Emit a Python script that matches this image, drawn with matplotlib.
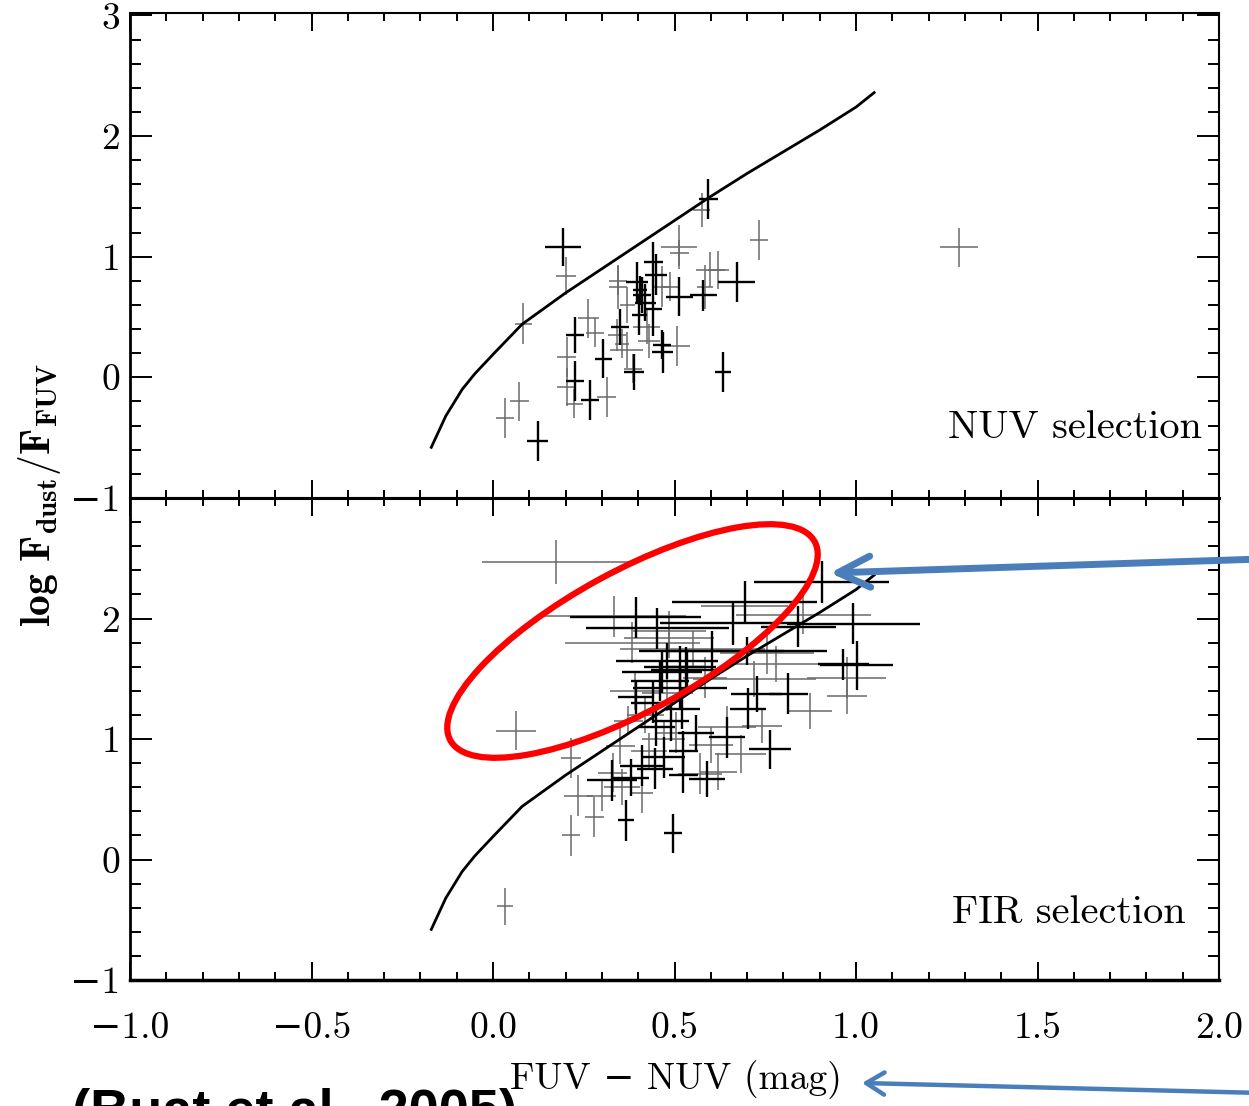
import numpy as np
import matplotlib.pyplot as plt
from matplotlib.patches import Ellipse, FancyArrowPatch
from matplotlib.transforms import IdentityTransform
from matplotlib.ticker import MultipleLocator

plt.rcParams['font.family'] = ['cmr10', 'DejaVu Serif']
plt.rcParams['mathtext.fontset'] = 'cm'
plt.rcParams['axes.unicode_minus'] = True

# model curve (same in both panels)
curve_x = [-0.17, -0.13, -0.085, -0.05, 0.0, 0.08, 0.2, 0.3, 0.4, 0.5, 0.6, 0.7, 0.8, 0.9, 1.0, 1.05]
curve_y = [-0.58, -0.32, -0.10, 0.03, 0.19, 0.44, 0.70, 0.90, 1.10, 1.30, 1.50, 1.69, 1.87, 2.05, 2.24, 2.36]

# NUV selection (upper panel)
nuv_x = [0.192, 0.201, 0.084, 0.033, 0.073, 0.123, 0.593, 0.575, 0.732, 0.513, 0.513, 0.442, 0.671,
         0.621, 0.598, 0.584, 0.513, 0.579, 0.488, 0.397, 0.410, 0.405, 0.442, 0.465, 0.403, 0.345,
         0.345, 0.350, 0.342, 0.355, 0.388, 0.386, 0.467, 0.465, 0.506, 0.634, 0.304, 0.263, 0.226,
         0.226, 0.203, 0.203, 0.267, 0.313, 0.224, 0.281, 0.368, 0.423, 1.284,
         0.420, 0.430, 0.370, 0.450]
nuv_y = [1.08, 0.84, 0.445, -0.34, -0.20, -0.53, 1.48, 1.39, 1.14, 1.08, 1.03, 0.96, 0.79,
         0.89, 0.89, 0.75, 0.67, 0.68, 0.75, 0.79, 0.68, 0.72, 0.57, 0.75, 0.515, 0.75,
         0.80, 0.415, 0.35, 0.28, 0.044, 0.072, 0.21, 0.27, 0.26, 0.044, 0.155, 0.49, 0.35,
         -0.03, 0.17, -0.08, -0.185, -0.163, -0.22, 0.37, 0.225, 0.42, 1.08,
         0.62, 0.30, 0.60, 0.85]
nuv_xerr = [0.050, 0.027, 0.023, 0.025, 0.026, 0.028, 0.026, 0.023, 0.025, 0.050, 0.026, 0.025, 0.050,
            0.028, 0.040, 0.023, 0.037, 0.037, 0.025, 0.030, 0.025, 0.020, 0.023, 0.025, 0.021, 0.025,
            0.025, 0.025, 0.025, 0.020, 0.028, 0.025, 0.028, 0.025, 0.037, 0.022, 0.023, 0.028, 0.024,
            0.024, 0.027, 0.026, 0.024, 0.026, 0.024, 0.025, 0.046, 0.037, 0.052,
            0.030, 0.030, 0.020, 0.030]
nuv_yerr = [0.16, 0.155, 0.17, 0.165, 0.16, 0.165, 0.165, 0.14, 0.165, 0.18, 0.11, 0.16, 0.165,
            0.155, 0.145, 0.18, 0.16, 0.13, 0.12, 0.17, 0.15, 0.12, 0.23, 0.17, 0.16, 0.18,
            0.12, 0.15, 0.13, 0.12, 0.15, 0.12, 0.17, 0.12, 0.165, 0.165, 0.16, 0.16, 0.15,
            0.165, 0.165, 0.16, 0.165, 0.165, 0.12, 0.12, 0.15, 0.14, 0.162,
            0.15, 0.14, 0.15, 0.17]
nuv_thick = [1, 0, 0, 0, 0, 1, 1, 0, 0, 0, 0, 1, 1,
             0, 0, 0, 1, 1, 0, 1, 1, 1, 1, 0, 1, 0,
             0, 1, 0, 0, 1, 0, 1, 1, 0, 1, 1, 0, 1,
             1, 0, 0, 1, 0, 0, 0, 0, 0, 0,
             1, 0, 0, 1]

# FIR selection (lower panel)
fir_x = [0.173, 0.063, 0.905, 0.993, 0.841, 0.855, 0.693, 0.694, 0.393, 0.332, 0.453, 0.384, 0.660,
         0.485, 0.602, 0.754, 1.002, 0.965, 0.974, 0.814, 0.873, 0.974, 0.726, 0.703, 0.644, 0.740,
         0.763, 0.682, 0.644, 0.621, 0.589, 0.570, 0.495, 0.366, 0.215, 0.279, 0.235, 0.215, 0.033,
         0.328, 0.355, 0.410, 0.446, 0.300, 0.350, 0.524, 0.524, 0.534, 0.584, 0.486, 0.515, 0.460,
         0.391, 0.393, 0.465, 0.532, 0.515, 0.373, 0.450, 0.470, 0.490, 0.505, 0.430, 0.380, 0.330,
         0.410, 0.700, 0.550, 0.480, 0.720, 0.780, 0.440, 0.520, 0.480, 0.560, 0.420, 0.600, 0.470]
fir_y = [2.47, 1.07, 2.30, 1.955, 1.93, 2.03, 2.14, 2.10, 2.01, 2.02, 1.92, 1.80, 1.96,
         1.84, 1.73, 1.71, 1.61, 1.62, 1.51, 1.375, 1.23, 1.355, 1.375, 1.25, 1.10, 1.105,
         0.913, 0.877, 1.015, 0.73, 0.67, 0.71, 0.218, 0.324, 0.20, 0.35, 0.53, 0.84, -0.39,
         0.656, 0.60, 0.78, 0.755, 0.53, 0.946, 0.90, 0.70, 1.57, 1.51, 1.90, 1.60, 1.485,
         1.40, 1.346, 1.555, 1.595, 1.42, 1.15, 1.10, 1.00, 1.15, 1.05, 0.90, 0.68, 0.72,
         0.55, 1.73, 1.75, 1.65, 1.50, 1.62, 1.30, 1.25, 1.38, 1.05, 1.20, 0.95, 0.85]
fir_xerr = [0.202, 0.055, 0.186, 0.184, 0.103, 0.185, 0.200, 0.120, 0.180, 0.200, 0.197, 0.185, 0.200,
            0.125, 0.200, 0.130, 0.100, 0.070, 0.110, 0.053, 0.060, 0.055, 0.070, 0.050, 0.080, 0.055,
            0.057, 0.070, 0.050, 0.050, 0.050, 0.060, 0.025, 0.023, 0.026, 0.026, 0.040, 0.027, 0.023,
            0.070, 0.050, 0.060, 0.050, 0.040, 0.040, 0.040, 0.040, 0.100, 0.060, 0.100, 0.100, 0.080,
            0.070, 0.050, 0.110, 0.050, 0.130, 0.040, 0.050, 0.060, 0.050, 0.060, 0.050, 0.050, 0.040,
            0.030, 0.220, 0.200, 0.140, 0.170, 0.120, 0.060, 0.050, 0.070, 0.050, 0.050, 0.060, 0.060]
fir_yerr = [0.185, 0.163, 0.175, 0.17, 0.17, 0.16, 0.17, 0.12, 0.17, 0.17, 0.17, 0.17, 0.18,
            0.17, 0.17, 0.17, 0.20, 0.13, 0.17, 0.17, 0.15, 0.15, 0.15, 0.17, 0.17, 0.14,
            0.16, 0.16, 0.17, 0.15, 0.15, 0.17, 0.16, 0.17, 0.17, 0.165, 0.17, 0.166, 0.15,
            0.17, 0.15, 0.17, 0.17, 0.13, 0.15, 0.17, 0.15, 0.17, 0.17, 0.16, 0.17, 0.17,
            0.16, 0.14, 0.17, 0.17, 0.17, 0.12, 0.16, 0.15, 0.17, 0.17, 0.15, 0.15, 0.16,
            0.16, 0.12, 0.15, 0.15, 0.15, 0.15, 0.17, 0.17, 0.15, 0.15, 0.15, 0.15, 0.17]
fir_thick = [0, 0, 1, 1, 1, 0, 1, 0, 1, 0, 1, 0, 1,
             0, 1, 0, 1, 1, 0, 1, 0, 0, 1, 1, 0, 0,
             1, 0, 1, 0, 1, 0, 1, 1, 0, 0, 0, 0, 0,
             1, 0, 1, 1, 0, 0, 1, 1, 1, 0, 0, 1, 1,
             0, 1, 1, 1, 1, 0, 1, 0, 1, 0, 0, 1, 0,
             0, 1, 0, 1, 0, 0, 1, 1, 0, 1, 0, 0, 1]

W, H = 1249, 1106
fig = plt.figure(figsize=(W / 100, H / 100), dpi=100)
left, right = 130 / W, 1219 / W
mid = 1 - 498 / H
ax1 = fig.add_axes([left, mid, right - left, (1 - 13 / H) - mid])
ax2 = fig.add_axes([left, 1 - 980 / H, right - left, mid - (1 - 980 / H)])


def draw_panel(ax, x, y, xe, ye, thick):
    x, y, xe, ye = map(np.asarray, (x, y, xe, ye))
    t = np.asarray(thick).astype(bool)
    ax.errorbar(x[~t], y[~t], xerr=xe[~t], yerr=ye[~t], fmt='none',
                ecolor='#6a6a6a', elinewidth=1.1, capsize=0)
    ax.errorbar(x[t], y[t], xerr=xe[t], yerr=ye[t], fmt='none',
                ecolor='black', elinewidth=1.7, capsize=0)
    ax.plot(curve_x, curve_y, color='black', lw=2.0)


def style(ax, ylim, yticks):
    ax.set_xlim(-1, 2)
    ax.set_ylim(*ylim)
    ax.xaxis.set_major_locator(MultipleLocator(0.5))
    ax.xaxis.set_minor_locator(MultipleLocator(0.1))
    ax.yaxis.set_minor_locator(MultipleLocator(0.2))
    ax.set_yticks(yticks)
    ax.set_yticklabels([str(v).replace('-', '\u2212') for v in yticks])
    ax.tick_params(which='both', direction='in', top=True, right=True)
    ax.tick_params(axis='x', which='major', length=13, width=1.4)
    ax.tick_params(axis='x', which='minor', length=6, width=1.4)
    ax.tick_params(axis='y', which='major', length=16, width=1.4)
    ax.tick_params(axis='y', which='minor', length=8, width=1.4)
    ax.tick_params(axis='y', labelsize=27, pad=7)
    ax.tick_params(axis='x', labelsize=27, pad=23)
    for s in ax.spines.values():
        s.set_linewidth(1.5)


draw_panel(ax1, nuv_x, nuv_y, nuv_xerr, nuv_yerr, nuv_thick)
draw_panel(ax2, fir_x, fir_y, fir_xerr, fir_yerr, fir_thick)
style(ax1, (-1, 3.02), [-1, 0, 1, 2, 3])
style(ax2, (-1, 3.0), [-1, 0, 1, 2])
ax1.tick_params(axis='x', labelbottom=False)
ax2.set_xticks([-1.0, -0.5, 0.0, 0.5, 1.0, 1.5, 2.0])
ax2.set_xticklabels(['\u22121.0', '\u22120.5', '0.0', '0.5', '1.0', '1.5', '2.0'])
ax1.spines['bottom'].set_linewidth(2.2)
ax2.spines['top'].set_linewidth(2.2)
ax2.spines['bottom'].set_linewidth(2.5)
ax1.spines['left'].set_linewidth(2.0)
ax2.spines['left'].set_linewidth(2.0)

ax1.text(1.953, -0.506, 'NUV selection', ha='right', va='baseline', fontsize=29)
ax2.text(1.909, -0.523, 'FIR selection', ha='right', va='baseline', fontsize=29)

fig.text(40 / W, 1 - 495 / H, r'$\mathbf{log\ F_{dust}/F_{FUV}}$', rotation=90,
         fontsize=30, ha='center', va='center')
fig.text(676 / W, 1 - 1080 / H, 'FUV \u2212 NUV (mag)', ha='center', va='center', fontsize=27)
# citation sits on the bottom edge, cut off as in the source slide
fig.text(72 / W, -21 / H, '(Buat et al., 2005)', family='Liberation Sans', weight='bold',
         fontsize=39, ha='left', va='baseline')

# annotations: red ellipse and blue arrows (pixel coordinates)
ell = Ellipse((632.5, H - 641), 415, 140, angle=28.6, fill=False, ec='#ff0000', lw=4.5,
              transform=IdentityTransform())
fig.add_artist(ell)

arr1 = FancyArrowPatch((1262, H - 559), (830, H - 573),
                       arrowstyle='->,head_length=0.58,head_width=0.28', mutation_scale=40,
                       lw=5, color='#4a7ebb', shrinkA=0, shrinkB=0, capstyle='round',
                       joinstyle='round', transform=IdentityTransform())
arr2 = FancyArrowPatch((1262, H - 1093), (862, H - 1083),
                       arrowstyle='->,head_length=0.65,head_width=0.4', mutation_scale=20,
                       lw=3.2, color='#4a7ebb', shrinkA=0, shrinkB=0, capstyle='round',
                       joinstyle='round', transform=IdentityTransform())
fig.add_artist(arr1)
fig.add_artist(arr2)

fig.savefig('out.png', dpi=100)
